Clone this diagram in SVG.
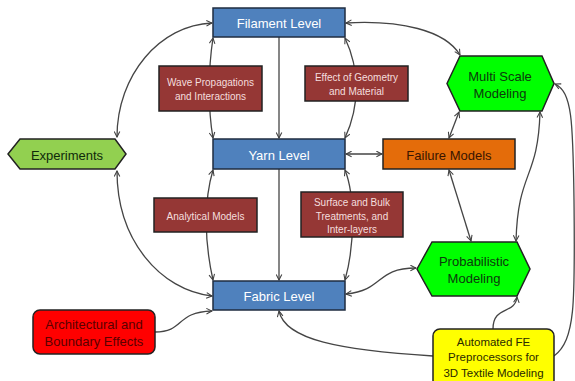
<svg xmlns="http://www.w3.org/2000/svg" width="575" height="381" viewBox="0 0 575 381">
<defs>
<marker id="ah" viewBox="0 0 10 10" refX="9" refY="5" markerWidth="7" markerHeight="7" markerUnits="userSpaceOnUse" orient="auto-start-reverse">
<path d="M1,1 L9,5 L1,9" fill="none" stroke="#404040" stroke-width="1.5"/>
</marker>
</defs>
<style>
text{font-family:"Liberation Sans",Arial,sans-serif;text-anchor:middle;dominant-baseline:central}
.c{fill:none;stroke:#454545;stroke-width:1.3}
.a2{marker-start:url(#ah);marker-end:url(#ah)}
.a1{marker-end:url(#ah)}
.lvl{fill:#4F81BD;stroke:#1f2d40;stroke-width:1.5}
.lvl-t{fill:#ffffff;font-size:13px}
.br{fill:#953735;stroke:#222;stroke-width:1.5}
.br-t{fill:#F4DEDE;font-size:10px}
.hx{fill:#00FF00;stroke:#222;stroke-width:1.5}
.hx-t{fill:#0c3a0c;font-size:13px}
</style>
<g id="connectors">
<path class="c a2" d="M117,137 C117,75 160,25 212,23"/>
<path class="c a2" d="M117,171 C117,240 160,290 212,296"/>
<path class="c a1" d="M279,37 L279,138"/>
<path class="c a1" d="M279,169 L279,280"/>
<path class="c a2" d="M213,38 C208,70 208,110 213,138"/>
<path class="c a2" d="M345,38 C360,70 360,105 345,138"/>
<path class="c a2" d="M213,170 C204,200 204,240 213,280"/>
<path class="c a2" d="M345,170 C355,195 355,245 345,280"/>
<path class="c a2" d="M346,154 L382,154"/>
<path class="c a2" d="M346,23 C400,20 445,30 460,55"/>
<path class="c a2" d="M459,112 L449,138"/>
<path class="c a2" d="M449,170 L471,241"/>
<path class="c a2" d="M540,112 C538,180 518,170 516,241"/>
<path class="c a1" d="M554,356 C576,340 575,300 574,200 C573,120 572,92 555,84"/>
<path class="c a1" d="M493,329 C493,305 515,315 517,297"/>
<path class="c a1" d="M433,356 C340,350 285,340 279,311"/>
<path class="c a2" d="M346,294 C385,290 375,268 416,268"/>
<path class="c a1" d="M155,332 C185,332 175,312 212,311"/>
</g>
<g id="filament">
<rect class="lvl" x="213" y="8" width="132" height="29"/>
<text class="lvl-t" x="279" y="23">Filament Level</text>
</g>
<g id="yarn">
<rect class="lvl" x="213" y="139" width="132" height="30"/>
<text class="lvl-t" x="279" y="155">Yarn Level</text>
</g>
<g id="fabric">
<rect class="lvl" x="213" y="281" width="132" height="29"/>
<text class="lvl-t" x="279" y="296">Fabric Level</text>
</g>
<g id="wave">
<rect class="br" x="159" y="66" width="103" height="45"/>
<text class="br-t" x="210.5" y="82">Wave Propagations</text>
<text class="br-t" x="210.5" y="96">and Interactions</text>
</g>
<g id="geometry">
<rect class="br" x="305" y="66" width="103" height="35"/>
<text class="br-t" x="356.5" y="77">Effect of Geometry</text>
<text class="br-t" x="356.5" y="91">and Material</text>
</g>
<g id="analytical">
<rect class="br" x="154" y="198" width="103" height="34"/>
<text class="br-t" x="205.5" y="216">Analytical Models</text>
</g>
<g id="surface">
<rect class="br" x="301" y="192" width="102" height="45"/>
<text class="br-t" x="352" y="202">Surface and Bulk</text>
<text class="br-t" x="352" y="216">Treatments, and</text>
<text class="br-t" x="352" y="229">Inter-layers</text>
</g>
<g id="experiments">
<polygon points="8,154 20,139 115,139 126,154 115,169 20,169" fill="#92D050" stroke="#222" stroke-width="1.5"/>
<text x="67" y="155" font-size="13" fill="#0f2a0a">Experiments</text>
</g>
<g id="multiscale">
<polygon class="hx" points="447,83.5 460,56 542,56 554,83.5 542,111 460,111"/>
<text class="hx-t" x="500" y="76">Multi Scale</text>
<text class="hx-t" x="500" y="93">Modeling</text>
</g>
<g id="failure">
<rect x="383" y="139" width="132" height="30" fill="#E46C0A" stroke="#222" stroke-width="1.5"/>
<text x="449" y="155" font-size="13" fill="#3a1500">Failure Models</text>
</g>
<g id="probabilistic">
<polygon class="hx" points="417,269 432,242 517,242 530,269 517,296 432,296"/>
<text class="hx-t" x="474" y="261">Probabilistic</text>
<text class="hx-t" x="474" y="278">Modeling</text>
</g>
<g id="architectural">
<rect x="33" y="310" width="122" height="44" rx="7" fill="#FF0000" stroke="#222" stroke-width="1.5"/>
<text x="94" y="324" font-size="13" fill="#5a0000">Architectural and</text>
<text x="94" y="341" font-size="13" fill="#5a0000">Boundary Effects</text>
</g>
<g id="automated">
<rect x="433" y="329" width="121" height="58" rx="7" fill="#FFFF00" stroke="#222" stroke-width="1.5"/>
<text x="493.5" y="342" font-size="11.5" fill="#2a2a00">Automated FE</text>
<text x="493.5" y="357" font-size="11.5" fill="#2a2a00">Preprocessors for</text>
<text x="493.5" y="373" font-size="11.5" fill="#2a2a00">3D Textile Modeling</text>
</g>
</svg>
